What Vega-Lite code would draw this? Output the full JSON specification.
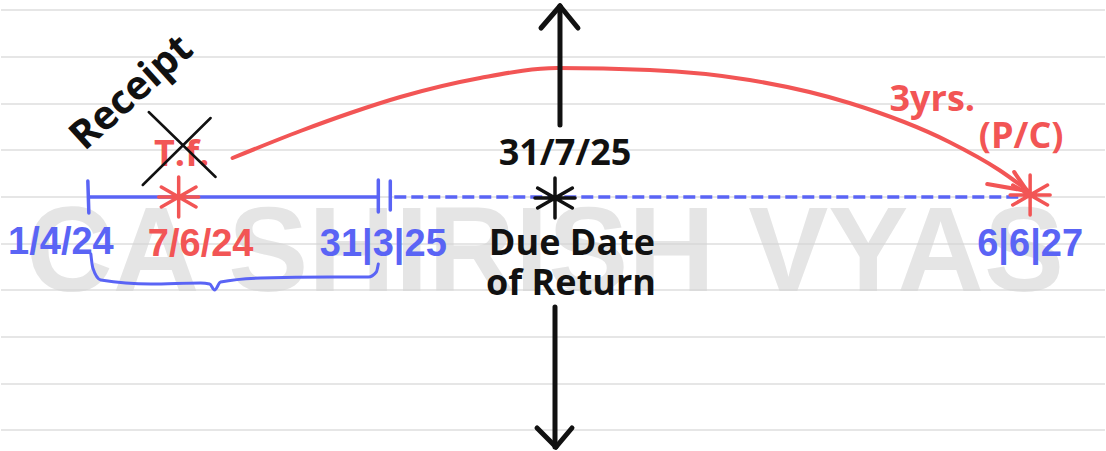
{
  "$schema": "https://vega.github.io/schema/vega-lite/v6.json",
  "width": 1106,
  "height": 451,
  "autosize": {"type": "fit", "contains": "padding"},
  "padding": 0,
  "background": "#ffffff",
  "config": {"view": {"stroke": null}},
  "datasets": {
    "ruled": [{"y": 10}, {"y": 57}, {"y": 104}, {"y": 150}, {"y": 197}, {"y": 244}, {"y": 290}, {"y": 337}, {"y": 384}, {"y": 430}],
    "watermark": [{"x": 545, "y": 291, "text": "CA SHIRISH VYAS"}],
    "blueSolid": [
      {"x": 88, "y": 197, "x2": 378, "y2": 197},
      {"x": 87, "y": 181, "x2": 88, "y2": 213},
      {"x": 378, "y": 180, "x2": 378, "y2": 212},
      {"x": 390, "y": 181, "x2": 390, "y2": 210}
    ],
    "blueDashed": [{"x": 394, "y": 197, "x2": 1022, "y2": 197}],
    "blackArrows": [
      {"x": 560, "y": 125, "x2": 560, "y2": 6},
      {"x": 541, "y": 28, "x2": 560, "y2": 6},
      {"x": 560, "y": 6, "x2": 578, "y2": 28},
      {"x": 555, "y": 307, "x2": 555, "y2": 447},
      {"x": 537, "y": 428, "x2": 556, "y2": 447},
      {"x": 556, "y": 447, "x2": 572, "y2": 428}
    ],
    "blackX": [
      {"x": 148, "y": 112, "x2": 215, "y2": 177},
      {"x": 210, "y": 118, "x2": 142, "y2": 185}
    ],
    "redHead": [
      {"x": 988, "y": 184, "x2": 1028, "y2": 191},
      {"x": 1015, "y": 172, "x2": 1028, "y2": 191}
    ],
    "redCurve": [
      {"i": 1, "x": 232, "y": 158},
      {"i": 2, "x": 300, "y": 131},
      {"i": 3, "x": 350, "y": 113},
      {"i": 4, "x": 400, "y": 97},
      {"i": 5, "x": 480, "y": 78},
      {"i": 6, "x": 557, "y": 68},
      {"i": 7, "x": 650, "y": 70},
      {"i": 8, "x": 750, "y": 80},
      {"i": 9, "x": 850, "y": 103},
      {"i": 10, "x": 950, "y": 142},
      {"i": 11, "x": 1000, "y": 170},
      {"i": 12, "x": 1028, "y": 190}
    ],
    "brace": [
      {"i": 1, "x": 90, "y": 254},
      {"i": 2, "x": 92, "y": 268},
      {"i": 3, "x": 100, "y": 280},
      {"i": 4, "x": 150, "y": 284},
      {"i": 5, "x": 200, "y": 283},
      {"i": 6, "x": 209, "y": 284},
      {"i": 7, "x": 214, "y": 290},
      {"i": 8, "x": 220, "y": 282},
      {"i": 9, "x": 260, "y": 278},
      {"i": 10, "x": 330, "y": 277},
      {"i": 11, "x": 368, "y": 277},
      {"i": 12, "x": 376, "y": 272},
      {"i": 13, "x": 378, "y": 264}
    ],
    "stars": [
      {"x": 178, "y": 197, "event": "transfer"},
      {"x": 555, "y": 198, "event": "due"},
      {"x": 1031, "y": 195, "event": "transfer"}
    ],
    "dates": [
      {"x": 60, "y": 254, "text": "1/4/24", "event": "period"},
      {"x": 200, "y": 256, "text": "7/6/24", "event": "transfer"},
      {"x": 383, "y": 256, "text": "31|3|25", "event": "period"},
      {"x": 1031, "y": 256, "text": "6|6|27", "event": "period"}
    ],
    "dueLabels": [
      {"x": 565, "y": 165, "text": "31/7/25"},
      {"x": 572, "y": 255, "text": "Due Date"},
      {"x": 571, "y": 295, "text": "of Return"}
    ],
    "notes": [
      {"x": 181, "y": 166, "text": "T.f."},
      {"x": 933, "y": 111, "text": "3yrs."},
      {"x": 1022, "y": 148, "text": "(P/C)"}
    ],
    "receipt": [{"x": 131, "y": 93, "text": "Receipt"}]
  },
  "encoding": {
    "x": {"field": "x", "type": "quantitative", "scale": {"domain": [0, 1106], "nice": false, "zero": false}, "axis": null},
    "y": {"field": "y", "type": "quantitative", "scale": {"domain": [0, 451], "reverse": true, "nice": false, "zero": false}, "axis": null}
  },
  "layer": [
    {
      "data": {"name": "ruled"},
      "mark": {"type": "rule", "color": "#dedede", "strokeWidth": 1.5},
      "encoding": {"x": null}
    },
    {
      "data": {"name": "watermark"},
      "mark": {"type": "text", "font": "Liberation Sans", "fontWeight": "bold", "fontSize": 120, "color": "#d4d4d4", "opacity": 0.6, "align": "center", "baseline": "alphabetic"},
      "encoding": {"text": {"field": "text"}}
    },
    {
      "data": {"name": "blueSolid"},
      "mark": {"type": "rule", "color": "#5a64f5", "strokeWidth": 3.5, "strokeCap": "round"},
      "encoding": {"x2": {"field": "x2"}, "y2": {"field": "y2"}}
    },
    {
      "data": {"name": "blueDashed"},
      "mark": {"type": "rule", "color": "#5a64f5", "strokeWidth": 3.5, "strokeDash": [12, 5]},
      "encoding": {"x2": {"field": "x2"}, "y2": {"field": "y2"}}
    },
    {
      "data": {"name": "redCurve"},
      "mark": {"type": "line", "color": "#f25555", "strokeWidth": 4, "interpolate": "monotone", "strokeCap": "round"},
      "encoding": {"order": {"field": "i", "type": "quantitative"}}
    },
    {
      "data": {"name": "redHead"},
      "mark": {"type": "rule", "color": "#f25555", "strokeWidth": 4, "strokeCap": "round"},
      "encoding": {"x2": {"field": "x2"}, "y2": {"field": "y2"}}
    },
    {
      "data": {"name": "brace"},
      "mark": {"type": "line", "color": "#5a64f5", "strokeWidth": 3, "interpolate": "monotone", "strokeCap": "round"},
      "encoding": {"order": {"field": "i", "type": "quantitative"}}
    },
    {
      "data": {"name": "blackArrows"},
      "mark": {"type": "rule", "color": "#111111", "strokeWidth": 5, "strokeCap": "round"},
      "encoding": {"x2": {"field": "x2"}, "y2": {"field": "y2"}}
    },
    {
      "data": {"name": "stars"},
      "mark": {"type": "point", "shape": "M0,-1L0,1M-0.87,-0.5L0.87,0.5M-0.87,0.5L0.87,-0.5M-1,0L1,0", "filled": false, "strokeWidth": 3.5, "size": 1600, "opacity": 1, "strokeCap": "round"},
      "encoding": {
        "color": {"field": "event", "type": "nominal", "scale": {"domain": ["period", "transfer", "due"], "range": ["#5a64f5", "#f25555", "#111111"]}, "legend": null}
      }
    },
    {
      "data": {"name": "dates"},
      "mark": {"type": "text", "font": "Liberation Sans", "fontWeight": "bold", "fontSize": 38, "align": "center", "baseline": "alphabetic"},
      "encoding": {
        "text": {"field": "text"},
        "color": {"field": "event", "type": "nominal", "scale": {"domain": ["period", "transfer", "due"], "range": ["#5a64f5", "#f25555", "#111111"]}, "legend": null}
      }
    },
    {
      "data": {"name": "notes"},
      "mark": {"type": "text", "font": "Open Sans", "fontWeight": "bold", "fontSize": 36, "color": "#f25555", "align": "center", "baseline": "alphabetic"},
      "encoding": {"text": {"field": "text"}}
    },
    {
      "data": {"name": "blackX"},
      "mark": {"type": "rule", "color": "#111111", "strokeWidth": 2.5, "strokeCap": "round"},
      "encoding": {"x2": {"field": "x2"}, "y2": {"field": "y2"}}
    },
    {
      "data": {"name": "dueLabels"},
      "mark": {"type": "text", "font": "Open Sans", "fontWeight": "bold", "fontSize": 36, "color": "#111111", "align": "center", "baseline": "alphabetic"},
      "encoding": {"text": {"field": "text"}}
    },
    {
      "data": {"name": "receipt"},
      "mark": {"type": "text", "font": "Open Sans", "fontWeight": "bold", "fontSize": 40, "color": "#111111", "align": "center", "baseline": "middle", "angle": 318},
      "encoding": {"text": {"field": "text"}}
    }
  ]
}
